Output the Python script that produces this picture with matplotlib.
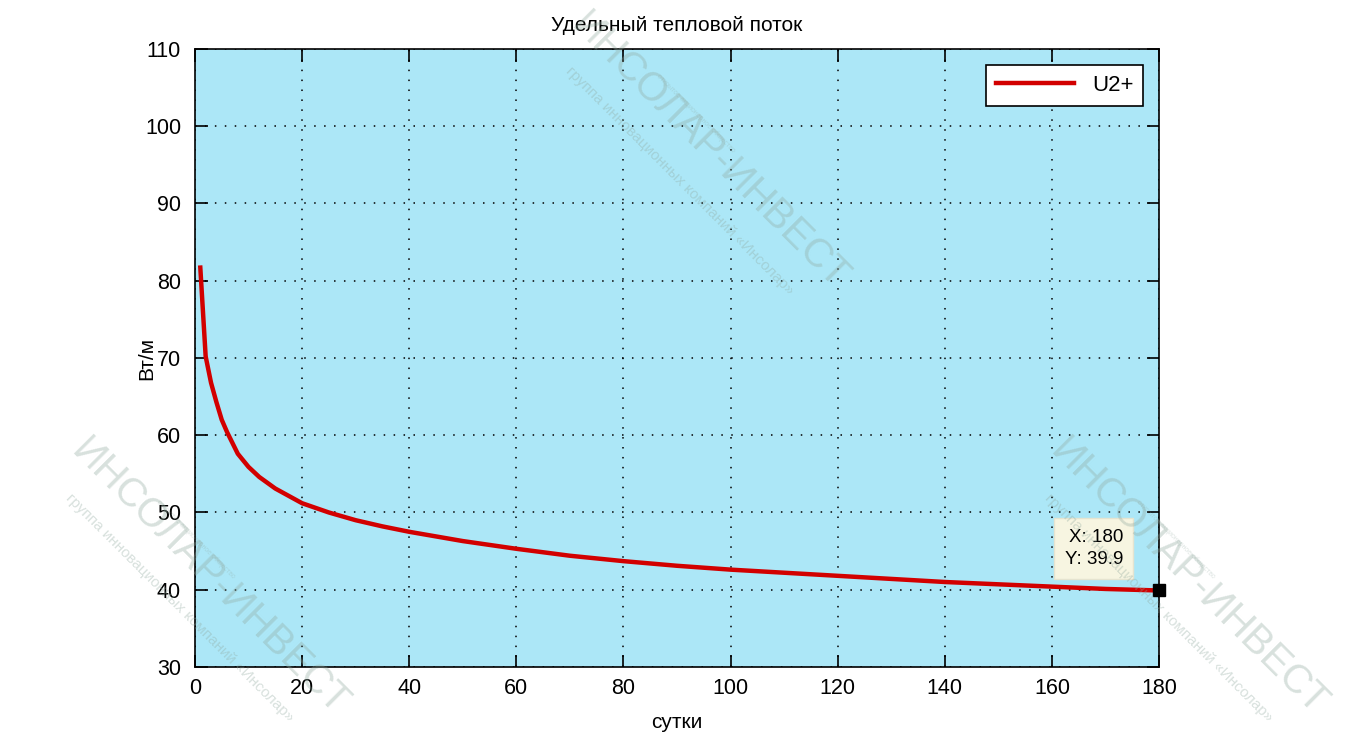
import numpy as np
import matplotlib.pyplot as plt

plt.rcParams['font.family'] = ['Liberation Sans', 'DejaVu Sans']

# heat flux curve
days = [1, 2, 3, 4, 5, 6, 8, 10, 12, 15, 20, 25, 30, 35, 40, 50, 60,
        70, 80, 90, 100, 110, 120, 130, 140, 150, 160, 170, 180]
flux = [81.7, 70.2, 66.8, 64.3, 62.0, 60.4, 57.6, 55.9, 54.6, 53.1, 51.2,
        50.0, 49.0, 48.2, 47.5, 46.3, 45.3, 44.4, 43.7, 43.1, 42.6, 42.2,
        41.8, 41.4, 41.0, 40.7, 40.4, 40.1, 39.9]
series_name = 'U2+'
tip_x, tip_y = 180, 39.9

x_ticks = np.arange(0, 181, 20)
y_ticks = np.arange(30, 111, 10)

fig = plt.figure(figsize=(13.51, 7.55), dpi=100)
ax = fig.add_axes([0.1443, 0.1166, 0.7136, 0.8185])
ax.set_facecolor('#ACE7F7')

ax.plot(days, flux, color='#D20000', lw=3.2, label=series_name, zorder=3)
ax.plot([tip_x], [tip_y], 's', color='black', ms=9, zorder=5, clip_on=False)
ax.annotate('X: %g\nY: %g' % (tip_x, tip_y), xy=(tip_x, tip_y),
            xytext=(-36, 22), textcoords='offset pixels', ha='right', va='bottom',
            fontsize=13.5, linespacing=1.45, zorder=6,
            bbox=dict(boxstyle='square,pad=0.55', fc='#F7F5E1', ec='#E6E4D0', lw=1))

ax.set_xlim(0, 180)
ax.set_ylim(30, 110)
ax.set_xticks(x_ticks)
ax.set_yticks(y_ticks)
ax.tick_params(direction='in', length=9, width=1.2, top=True, right=True,
               labelsize=15.5)
ax.tick_params(axis='x', pad=8)
ax.tick_params(axis='y', pad=10)
ax.grid(True, color='black', linestyle=(0, (1, 5.5)), linewidth=1.1)
for s in ax.spines.values():
    s.set_linewidth(1.2)

ax.set_title('Удельный тепловой поток', fontsize=15, pad=13)
ax.set_xlabel('сутки', fontsize=15, labelpad=10)
ax.set_ylabel('Вт/м', fontsize=15)
ax.yaxis.set_label_coords(-0.040, 0.5)

leg = ax.legend(loc='upper right', fontsize=16, handlelength=3.5,
                borderaxespad=0.7, fancybox=False, framealpha=1,
                edgecolor='black', borderpad=0.45)
leg.get_frame().set_linewidth(1.2)

# faint watermarks over the picture
wm_color = '#8FA89E'
for cx, cy in [(0.525, 0.80), (0.155, 0.235), (0.88, 0.235)]:
    fig.text(cx, cy, 'ИНСОЛАР-ИНВЕСТ', color=wm_color, alpha=0.35, rotation=-45,
             ha='center', va='center', fontsize=29, zorder=10)
    fig.text(cx - 0.022, cy - 0.04, 'группа инновационных компаний «Инсолар»',
             color=wm_color, alpha=0.35, rotation=-45, ha='center', va='center',
             fontsize=11, zorder=10)
    fig.text(cx - 0.01, cy + 0.05, 'открытое акционерное общество',
             color=wm_color, alpha=0.3, rotation=-45, ha='center', va='center',
             fontsize=5, zorder=10)

fig.savefig('out.png', dpi=100)
